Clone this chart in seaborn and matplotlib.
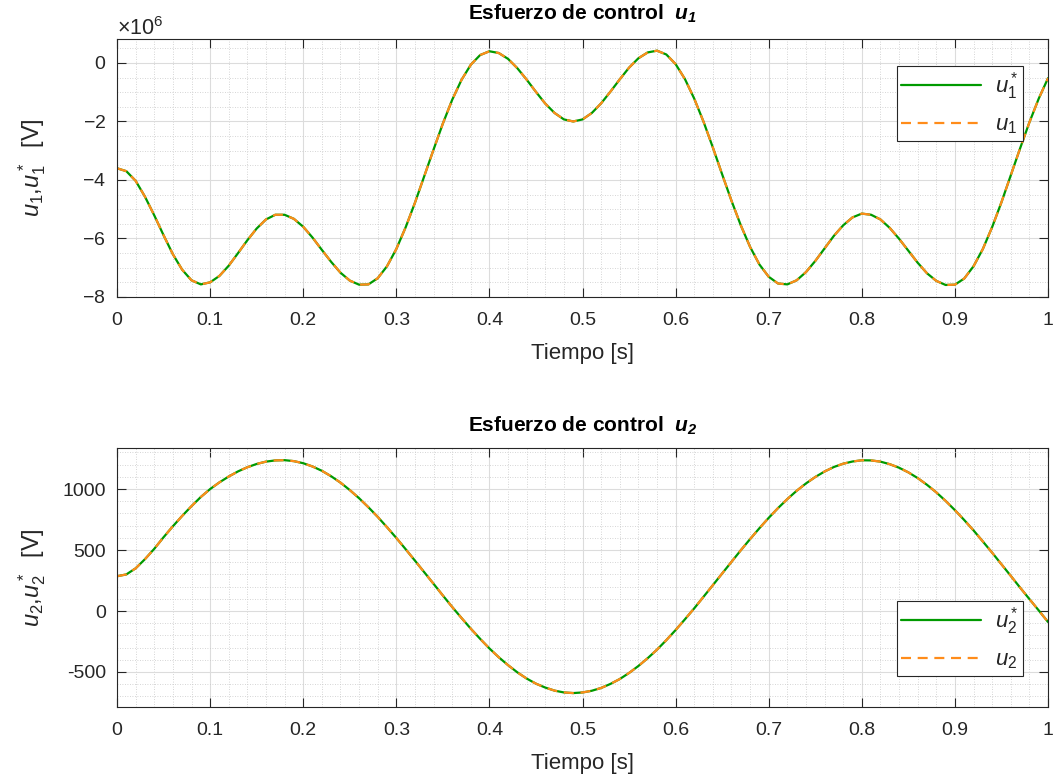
import numpy as np
import pandas as pd
import matplotlib
matplotlib.use("Agg")
import matplotlib.pyplot as plt
from matplotlib.ticker import MultipleLocator, ScalarFormatter
import seaborn as sns

# ---------------- data ----------------
t = np.linspace(0.0, 1.0, 101)  # Tiempo [s], step 0.01

# u1* in units of 1e6 V
u1_star_M = [
    -3.60, -3.70, -4.03, -4.57, -5.21, -5.89, -6.54, -7.07, -7.43, -7.57,
    -7.50, -7.28, -6.93, -6.50, -6.06, -5.66, -5.35, -5.19, -5.19, -5.33,
    -5.60, -5.97, -6.39, -6.80, -7.17, -7.44, -7.58, -7.57, -7.36, -6.95,
    -6.36, -5.62, -4.78, -3.87, -2.96, -2.07, -1.26, -0.58, -0.06, 0.27,
    0.40, 0.34, 0.14, -0.18, -0.57, -0.99, -1.39, -1.71, -1.93, -2.00,
    -1.93, -1.71, -1.38, -0.98, -0.56, -0.16, 0.16, 0.36, 0.42, 0.29,
    -0.04, -0.55, -1.22, -2.01, -2.89, -3.81, -4.71, -5.55, -6.29, -6.89,
    -7.31, -7.54, -7.57, -7.43, -7.15, -6.77, -6.34, -5.91, -5.55, -5.28,
    -5.15, -5.19, -5.35, -5.64, -6.01, -6.42, -6.83, -7.19, -7.45, -7.59,
    -7.58, -7.37, -6.95, -6.36, -5.61, -4.76, -3.84, -2.92, -2.03, -1.22,
    -0.52,
]
u1_M = list(u1_star_M)

# u2* in V
u2_star = [
    285, 300, 350, 425, 510, 605, 695, 780, 860, 935,
    1000, 1055, 1103, 1145, 1179, 1206, 1225, 1235, 1237, 1229,
    1212, 1185, 1150, 1105, 1053, 992, 925, 851, 772, 687,
    599, 507, 413, 318, 223, 127, 33, -57, -145, -228,
    -307, -379, -444, -503, -554, -596, -628, -653, -668, -673,
    -668, -654, -631, -598, -558, -508, -451, -387, -317, -239,
    -156, -68, 22, 117, 212, 308, 403, 498, 590, 679,
    764, 844, 918, 986, 1046, 1099, 1144, 1181, 1208, 1226,
    1236, 1235, 1225, 1204, 1175, 1137, 1090, 1035, 973, 903,
    827, 746, 661, 570, 478, 383, 288, 192, 98, 5,
    -90,
]
u2 = list(u2_star)

x_ticks = [0, 0.1, 0.2, 0.3, 0.4, 0.5, 0.6, 0.7, 0.8, 0.9, 1]
x_tick_labels = ["0", "0.1", "0.2", "0.3", "0.4", "0.5", "0.6", "0.7", "0.8", "0.9", "1"]
y1_ticks_M = [0, -2, -4, -6, -8]
y2_ticks = [-500, 0, 500, 1000]

# ---------------- style ----------------
sns.set_style("ticks")
plt.rcParams["font.family"] = ["Liberation Sans", "DejaVu Sans"]
plt.rcParams["mathtext.fontset"] = "custom"
plt.rcParams["mathtext.rm"] = "Liberation Sans"
plt.rcParams["mathtext.it"] = "Liberation Sans:italic"
plt.rcParams["mathtext.bf"] = "Liberation Sans:bold"
plt.rcParams["mathtext.bfit"] = "Liberation Sans:italic:bold"
plt.rcParams["axes.unicode_minus"] = False

TXT = "#262626"
GREEN = "#009a00"
ORANGE = "#ff8c1a"
TICK_FS = 14
XLAB_FS = 16
YLAB_FS = 17
TITLE_FS = 15
LEG_FS = 16

fig = plt.figure(figsize=(10.6, 7.78), dpi=100)
ax1 = fig.add_axes([0.1104, 0.6183, 0.8783, 0.3316])
ax2 = fig.add_axes([0.1104, 0.0913, 0.8783, 0.3329])

df1 = pd.DataFrame({"t": t, "ref": np.array(u1_star_M) * 1e6, "u": np.array(u1_M) * 1e6})
df2 = pd.DataFrame({"t": t, "ref": u2_star, "u": u2})


def style_axes(ax):
    ax.set_xlim(0, 1)
    ax.set_xticks(x_ticks)
    ax.set_xticklabels(x_tick_labels)
    ax.xaxis.set_minor_locator(MultipleLocator(0.02))
    ax.grid(True, which="major", color="#dcdcdc", linewidth=0.8, linestyle="-")
    ax.grid(True, which="minor", color="#c8c8c8", linewidth=0.6, linestyle=(0, (1, 2)))
    ax.set_axisbelow(True)
    ax.tick_params(which="major", direction="in", length=6.7, width=0.8,
                   top=True, right=True, colors=TXT, labelsize=TICK_FS)
    ax.tick_params(axis="x", which="major", pad=11)
    ax.tick_params(axis="y", which="major", pad=8)
    ax.tick_params(which="minor", length=0, top=True, right=True)
    for s in ax.spines.values():
        s.set_color(TXT)
        s.set_linewidth(0.8)
    ax.set_xlabel("Tiempo [s]", fontsize=XLAB_FS, color=TXT, labelpad=10)
    ax.yaxis.set_label_coords(-0.074, 0.5)


def style_legend(ax, anchor_y):
    leg = ax.legend(loc="upper right", bbox_to_anchor=(0.973, anchor_y),
                    borderaxespad=0, handlelength=3.6, fontsize=LEG_FS, frameon=True,
                    fancybox=False, borderpad=0.2, labelspacing=0.55, handletextpad=0.6)
    leg.get_frame().set_edgecolor(TXT)
    leg.get_frame().set_linewidth(0.8)
    leg.get_frame().set_alpha(1)
    return leg


# ---- top: u1 ----
sns.lineplot(data=df1, x="t", y="ref", ax=ax1, color=GREEN, linewidth=1.6,
             label=r"$u_1^*$")
sns.lineplot(data=df1, x="t", y="u", ax=ax1, color=ORANGE, linewidth=1.6,
             linestyle=(0, (4.5, 3)), label=r"$u_1$")
ax1.set_ylim(-8e6, 0.82e6)
ax1.set_yticks([v * 1e6 for v in y1_ticks_M])
ax1.yaxis.set_minor_locator(MultipleLocator(0.5e6))
fmt = ScalarFormatter(useMathText=True)
fmt.set_powerlimits((0, 0))
ax1.yaxis.set_major_formatter(fmt)
style_axes(ax1)
ax1.yaxis.get_offset_text().set_fontsize(15.5)
ax1.yaxis.get_offset_text().set_color(TXT)
ax1.set_ylabel(r"$u_1$,$u_1^*$  [V]", fontsize=YLAB_FS, color=TXT)
ax1.set_title(r"Esfuerzo de control  $\mathbfit{u}_{\mathbfit{1}}$", fontsize=TITLE_FS,
              fontweight="bold", color="black", pad=14)
style_legend(ax1, 0.895)

# ---- bottom: u2 ----
sns.lineplot(data=df2, x="t", y="ref", ax=ax2, color=GREEN, linewidth=1.6,
             label=r"$u_2^*$")
sns.lineplot(data=df2, x="t", y="u", ax=ax2, color=ORANGE, linewidth=1.6,
             linestyle=(0, (4.5, 3)), label=r"$u_2$")
ax2.set_ylim(-787, 1337)
ax2.set_yticks(y2_ticks)
ax2.yaxis.set_minor_locator(MultipleLocator(100))
style_axes(ax2)
ax2.set_ylabel(r"$u_2$,$u_2^*$  [V]", fontsize=YLAB_FS, color=TXT)
ax2.set_title(r"Esfuerzo de control  $\mathbfit{u}_{\mathbfit{2}}$", fontsize=TITLE_FS,
              fontweight="bold", color="black", pad=12)
style_legend(ax2, 0.409)

fig.savefig("out.png", dpi=100)
